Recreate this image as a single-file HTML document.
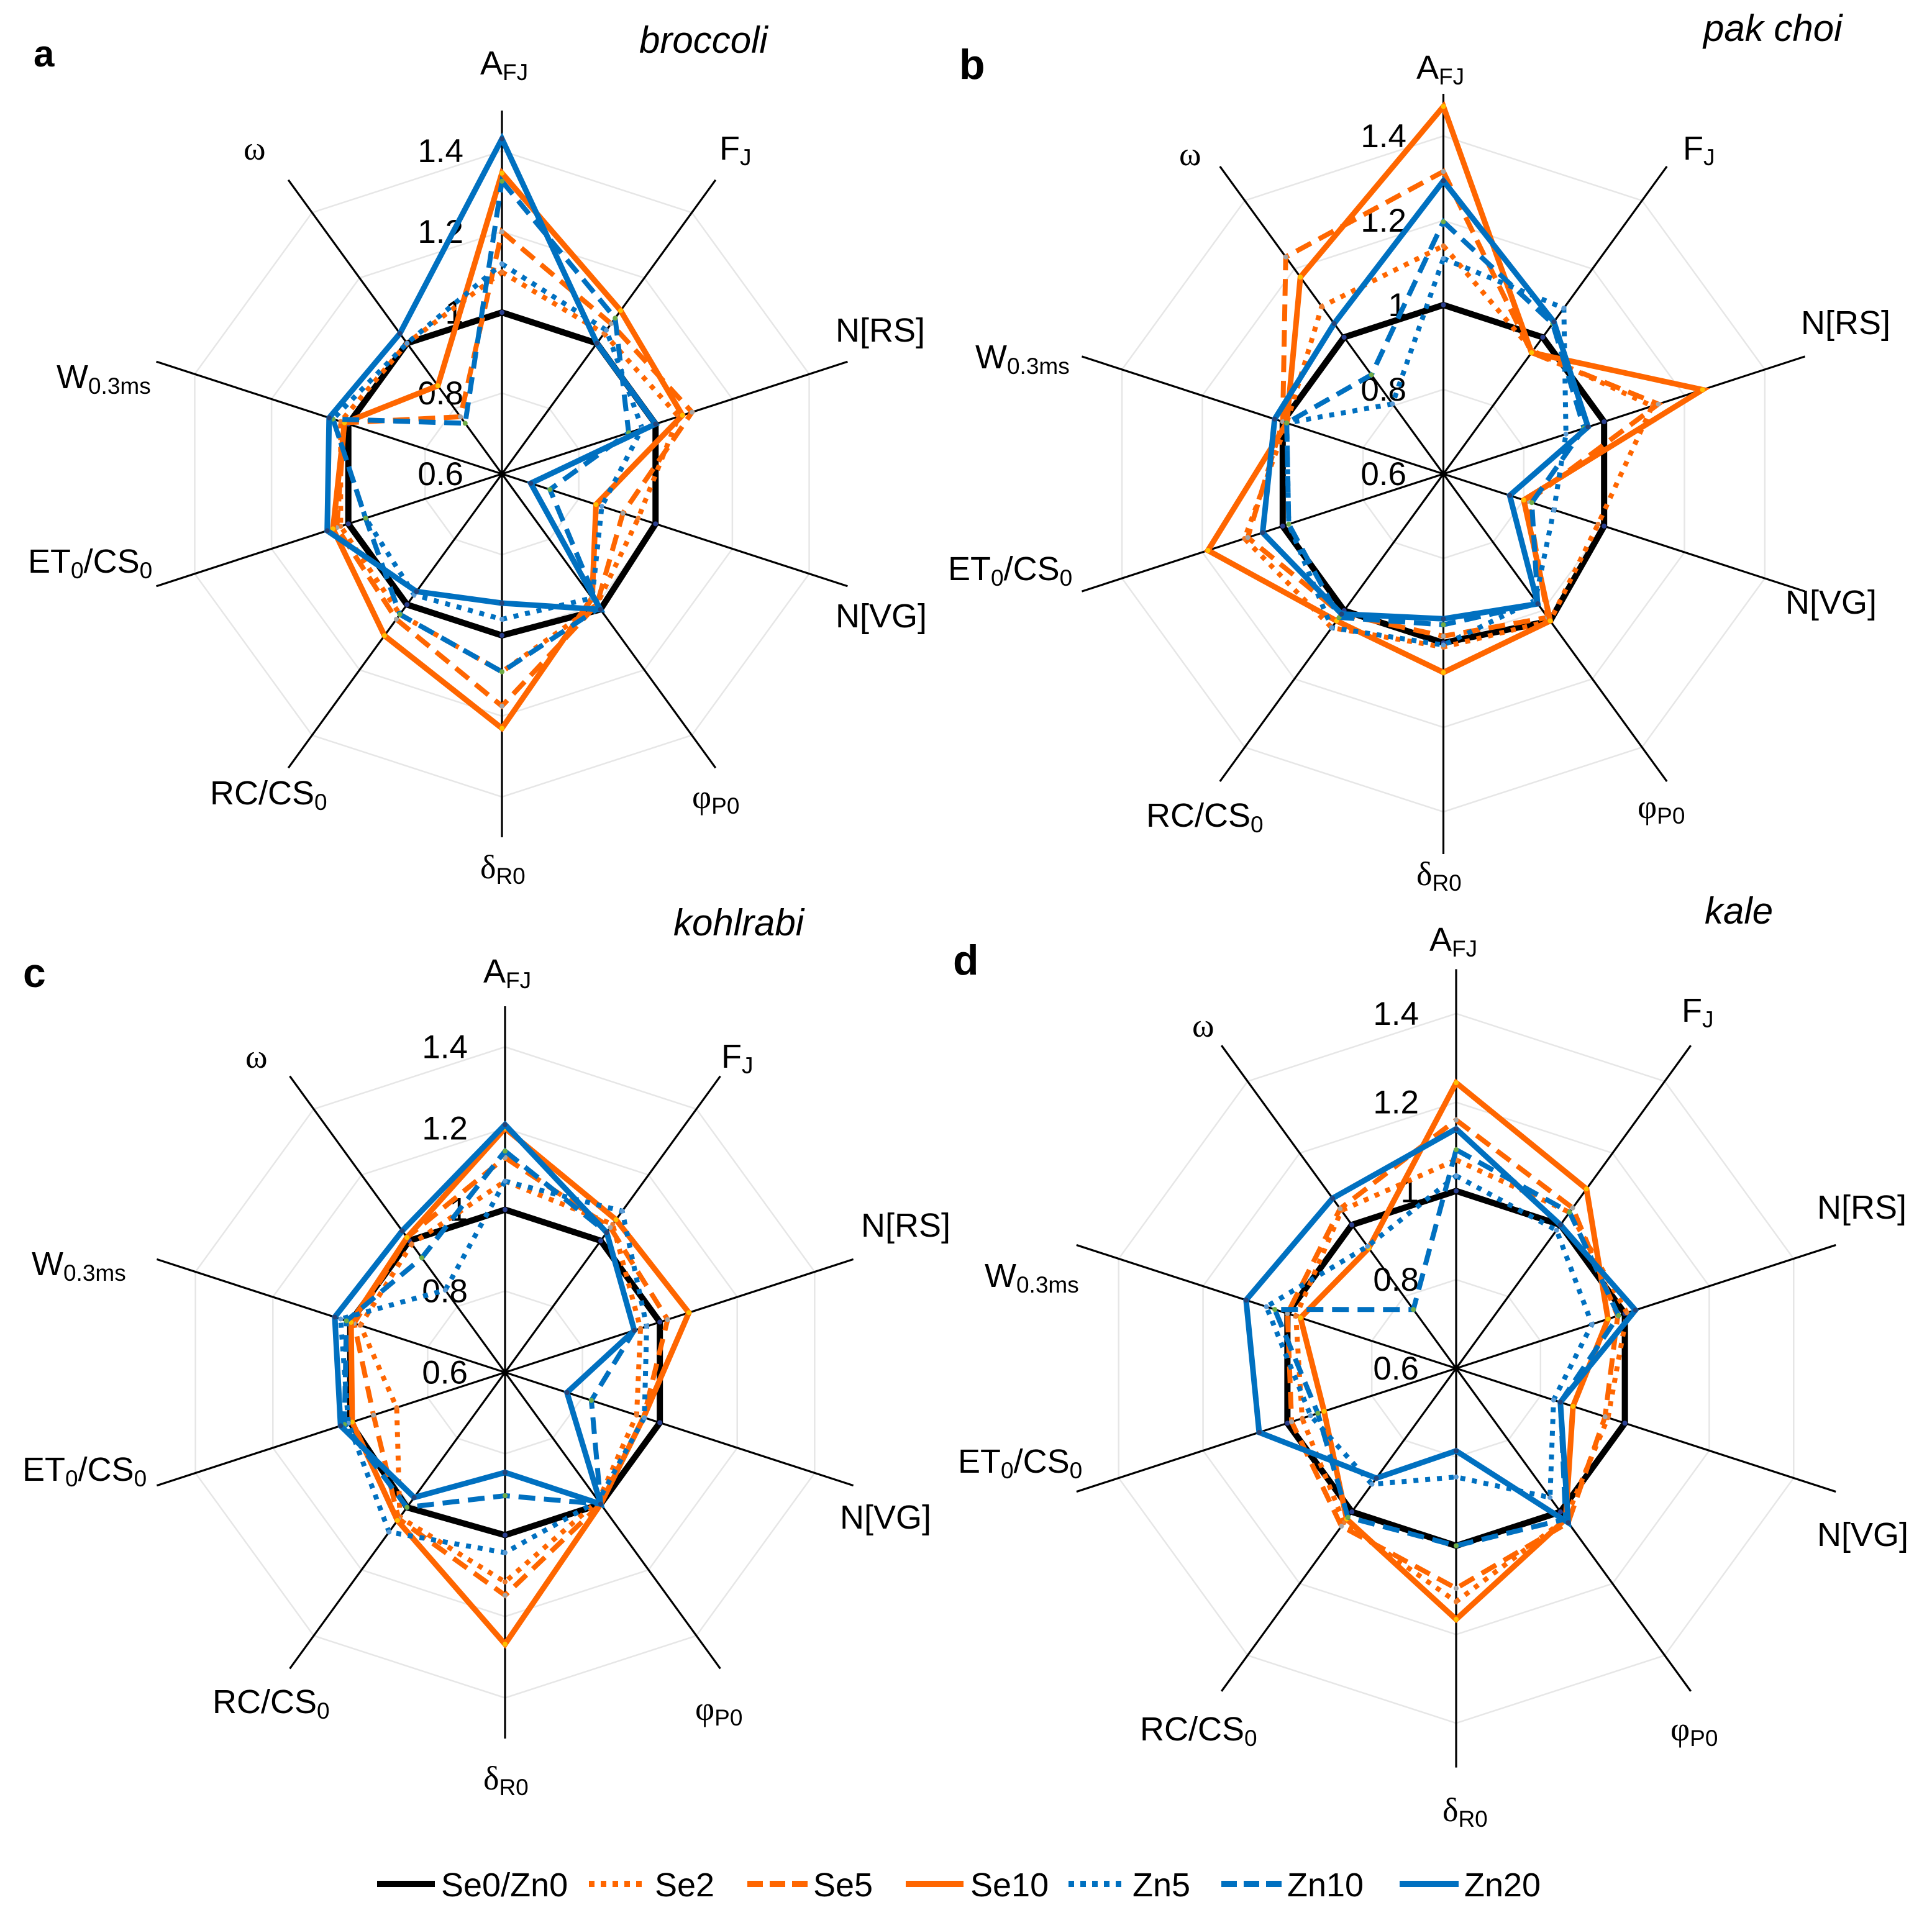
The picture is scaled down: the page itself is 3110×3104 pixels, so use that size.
<!DOCTYPE html>
<html lang="en">
<head>
<meta charset="utf-8">
<title>Radar charts: broccoli, pak choi, kohlrabi, kale</title>
<style>
html,body{margin:0;padding:0;background:#fff;}
svg{display:block;}
text{font-family:"Liberation Sans",sans-serif;fill:#000;}
</style>
</head>
<body>
<svg id="figure" xmlns="http://www.w3.org/2000/svg" width="3110" height="3104" viewBox="0 0 3110 3104"></svg>
<script>
// Categories, clockwise from the top
const categories = ['AFJ','FJ','N[RS]','N[VG]','φP0','δR0','RC/CS0','ET0/CS0','W0.3ms','ω'];
const categoryMain = ['A','F','N[RS]','N[VG]','φ','δ','RC/CS','ET','W','ω'];
const categorySub = ['FJ','J','','','P0','R0','0','0','0.3ms',''];
const categoryTail = ['','','','','','','','/CS','',''];
const categoryTailSub = ['','','','','','','','0','',''];
const tickValues = [0.6,0.8,1,1.2,1.4];
const ringValues = [0.8,1,1.2,1.4];
const axisMax = [1.5];
const axisMin = [0.6];
const seriesNames = ['Se0/Zn0','Se2','Se5','Se10','Zn5','Zn10','Zn20'];

// a: broccoli
const broccoliSe0 = [1,1,1,1,1.015,1,1,1,1,1];
const broccoliSe2 = [1.10,1.03,1.06,0.955,1.0,1.09,1.03,1.02,1.02,1.0];
const broccoliSe5 = [1.2,1.06,1.095,0.915,1.0,1.175,1.045,1.03,1.01,0.775];
const broccoliSe10 = [1.345,1.10,1.07,0.845,0.98,1.23,1.095,1.04,1.01,0.87];
const broccoliZn5 = [1.12,1.04,0.965,0.86,0.98,0.96,0.97,0.955,1.04,1.0];
const broccoliZn10 = [1.325,1.077,0.93,0.725,1.01,1.09,1.03,0.955,1.04,0.755];
const broccoliZn20 = [1.43,1.0,1.0,0.675,1.015,0.92,0.96,1.055,1.05,1.03];

// b: pak choi
const pakChoiSe0 = [1,1,1,1,1.03,1,1,1,1,1];
const pakChoiSe2 = [1.14,0.96,1.12,0.985,1.03,1.01,1.05,1.095,0.99,1.09];
const pakChoiSe5 = [1.316,0.955,1.135,0.81,1.02,0.984,1.01,1.087,1.0,1.235];
const pakChoiSe10 = [1.47,0.955,1.245,0.80,1.03,1.07,1.03,1.186,0.99,1.176];
const pakChoiZn5 = [1.11,1.085,0.905,0.875,0.97,1.005,1.05,0.985,0.99,0.805];
const pakChoiZn10 = [1.197,1.04,0.95,0.82,0.98,0.957,1.02,0.985,0.99,0.89];
const pakChoiZn20 = [1.294,1.045,0.96,0.765,0.98,0.943,1.01,1.05,1.02,1.04];

// c: kohlrabi
const kohlrabiSe0 = [1,1,1,1,1,1,1.01,1,1,1];
const kohlrabiSe2 = [1.07,1.05,0.95,0.94,0.99,1.115,1.04,0.88,0.974,0.99];
const kohlrabiSe5 = [1.128,1.04,1.02,0.958,1,1.148,1.045,0.94,0.99,1.01];
const kohlrabiSe10 = [1.2,1.064,1.075,0.958,1,1.268,1.05,0.995,0.998,1.01];
const kohlrabiZn5 = [1.07,1.09,0.966,0.96,0.99,1.043,1.085,1.005,1.025,0.85];
const kohlrabiZn10 = [1.144,1.025,0.934,0.823,1,0.903,1.01,1.015,1.01,0.948];
const kohlrabiZn20 = [1.209,1.025,0.934,0.76,1,0.846,0.98,1.025,1.04,1.03];

// d: kale
const kaleSe0 = [1,1,1,1,1,1,1,1,1,1];
const kaleSe2 = [1.07,1.035,1.005,0.96,1.02,1.126,1.03,0.965,0.98,1.04];
const kaleSe5 = [1.16,1.047,0.983,0.953,1.03,1.096,1.04,0.99,1,1.045];
const kaleSe10 = [1.244,1.10,0.96,0.877,1.02,1.166,1.02,0.913,0.969,0.935];
const kaleZn5 = [1.034,0.985,0.922,0.831,0.96,0.845,0.923,0.945,1.05,0.94];
const kaleZn10 = [1.093,1.035,0.985,0.847,1.02,1.0,1.015,0.928,1.03,0.764];
const kaleZn20 = [1.14,1.0,1.025,0.847,1.03,0.786,0.906,1.067,1.098,1.074];

const svg = document.getElementById('figure');
const NS = 'http://www.w3.org/2000/svg';

const seriesStyles = [
  {color:'#000000', width:10, dash:'', marker:'#2a3f8f'},
  {color:'#FF6600', width:8, dash:'8 11', marker:'#ed7d31'},
  {color:'#FF6600', width:8, dash:'27 14', marker:'#a5a5a5'},
  {color:'#FF6600', width:9, dash:'', marker:'#ffc000'},
  {color:'#0070C0', width:8, dash:'8 11', marker:'#5b9bd5'},
  {color:'#0070C0', width:8, dash:'27 14', marker:'#70ad47'},
  {color:'#0070C0', width:9, dash:'', marker:'#264478'}
];

const panels = [
  {key:'broccoli', letter:'a', letterSize:60, title:'broccoli', cx:808, cy:763, scale:650, tickRight:746,
   letterPos:[54,107], titlePos:[1029,85],
   labelPos:[[773,120],[1158,257],[1345,550],[1345,1010],[1114,1301],[773,1414],[338,1295],[45,922],[91,625],[392,257]],
   values:[broccoliSe0,broccoliSe2,broccoliSe5,broccoliSe10,broccoliZn5,broccoliZn10,broccoliZn20]},
  {key:'pak-choi', letter:'b', letterSize:68, title:'pak choi', cx:2323.5, cy:763, scale:680, tickRight:2264,
   letterPos:[1544,127], titlePos:[2742,66],
   labelPos:[[2280,127],[2709,257],[2899,538],[2874,988],[2636,1317],[2280,1425],[1845,1331],[1526,934],[1570,593],[1898,266]],
   values:[pakChoiSe0,pakChoiSe2,pakChoiSe5,pakChoiSe10,pakChoiZn5,pakChoiZn10,pakChoiZn20]},
  {key:'kohlrabi', letter:'c', letterSize:66, title:'kohlrabi', cx:813, cy:2209.5, scale:655, tickRight:753,
   letterPos:[37,1589], titlePos:[1084,1506],
   labelPos:[[778,1582],[1161,1719],[1386,1991],[1352,2461],[1119,2769],[778,2881],[342,2758],[36,2384],[51,2053],[395,1719]],
   values:[kohlrabiSe0,kohlrabiSe2,kohlrabiSe5,kohlrabiSe10,kohlrabiZn5,kohlrabiZn10,kohlrabiZn20]},
  {key:'kale', letter:'d', letterSize:68, title:'kale', cx:2344, cy:2203, scale:714, tickRight:2284,
   letterPos:[1534,1569], titlePos:[2744,1487],
   labelPos:[[2301,1531],[2707,1645],[2925,1962],[2925,2489],[2689,2802],[2322,2932],[1835,2802],[1542,2371],[1585,2072],[1919,1669]],
   values:[kaleSe0,kaleSe2,kaleSe5,kaleSe10,kaleZn5,kaleZn10,kaleZn20]}
];

function make(tag, parent){
  const el = document.createElementNS(NS, tag);
  parent.appendChild(el);
  return el;
}
function radius(panel, value){
  return (value - axisMin[0]) * panel.scale;
}
function point(panel, axisIndex, value){
  const angle = axisIndex * 2 * Math.PI / categories.length;
  const r = radius(panel, value);
  return [panel.cx + r * Math.sin(angle), panel.cy - r * Math.cos(angle)];
}
function addSpan(textEl, content, size, dy){
  const span = make('tspan', textEl);
  span.textContent = content;
  span.setAttribute('font-size', size);
  if (dy) span.setAttribute('dy', dy);
  return span;
}

panels.forEach(function(panel){
  const group = make('g', svg);
  
  

  ringValues.forEach(function(value){
    const ring = make('polygon', group);
    
    
    ring.setAttribute('points', categories.map(function(c, i){ return point(panel, i, value).join(','); }).join(' '));
    ring.setAttribute('fill', 'none');
    ring.setAttribute('stroke', '#e6e6e6');
    ring.setAttribute('stroke-width', '2.5');
  });

  categories.forEach(function(category, i){
    const end = point(panel, i, axisMax[0]);
    const axis = make('line', group);
    
    
    axis.setAttribute('x1', panel.cx);
    axis.setAttribute('y1', panel.cy);
    axis.setAttribute('x2', end[0]);
    axis.setAttribute('y2', end[1]);
    axis.setAttribute('stroke', '#000');
    axis.setAttribute('stroke-width', '3.2');
  });

  tickValues.forEach(function(value){
    const tick = make('text', group);
    
    
    tick.setAttribute('x', panel.tickRight);
    tick.setAttribute('y', panel.cy - radius(panel, value) + 18);
    tick.setAttribute('text-anchor', 'end');
    tick.setAttribute('font-size', '53');
    tick.textContent = String(value);
  });

  panel.values.forEach(function(values, s){
    const style = seriesStyles[s];
    const line = make('polygon', group);
    
    
    line.setAttribute('points', values.map(function(v, i){ return point(panel, i, v).join(','); }).join(' '));
    line.setAttribute('fill', 'none');
    line.setAttribute('stroke', style.color);
    line.setAttribute('stroke-width', style.width);
    line.setAttribute('stroke-linejoin', 'miter');
    line.setAttribute('stroke-miterlimit', '6');
    if (style.dash) line.setAttribute('stroke-dasharray', style.dash);
    values.forEach(function(v, i){
      const p = point(panel, i, v);
      const dot = make('circle', group);
      
      
      dot.setAttribute('cx', p[0]);
      dot.setAttribute('cy', p[1]);
      dot.setAttribute('r', '4');
      dot.setAttribute('fill', style.marker);
    });
  });

  categories.forEach(function(category, i){
    const pos = panel.labelPos[i];
    const label = make('text', group);
    
    
    label.setAttribute('x', pos[0]);
    label.setAttribute('y', pos[1]);
    const greek = categoryMain[i] === 'φ' || categoryMain[i] === 'δ' || categoryMain[i] === 'ω';
    const mainSpan = addSpan(label, categoryMain[i], greek ? 54 : 54, 0);
    if (greek) mainSpan.setAttribute('style', 'font-family:"Liberation Serif",serif');
    if (categorySub[i]) addSpan(label, categorySub[i], 37, 9);
    if (categoryTail[i]) addSpan(label, categoryTail[i], 54, -9);
    if (categoryTailSub[i]) addSpan(label, categoryTailSub[i], 37, 9);
  });

  const letter = make('text', group);
  
  
  letter.setAttribute('x', panel.letterPos[0]);
  letter.setAttribute('y', panel.letterPos[1]);
  letter.setAttribute('font-size', panel.letterSize);
  letter.setAttribute('font-weight', '700');
  letter.textContent = panel.letter;

  const title = make('text', group);
  
  
  title.setAttribute('x', panel.titlePos[0]);
  title.setAttribute('y', panel.titlePos[1]);
  title.setAttribute('font-size', '60');
  title.setAttribute('font-style', 'italic');
  title.textContent = panel.title;
});

// Legend
const legendLineStart = [607,948,1203,1458,1720,1966,2253];
const legendLineEnd = [700,1037,1300,1551,1810,2064,2348];
const legendTextStart = [710,1054,1309,1562,1823,2072,2357];
const legend = make('g', svg);


seriesNames.forEach(function(name, s){
  const style = seriesStyles[s];
  const sample = make('line', legend);
  
  
  sample.setAttribute('x1', legendLineStart[s]);
  sample.setAttribute('x2', legendLineEnd[s]);
  sample.setAttribute('y1', 3033);
  sample.setAttribute('y2', 3033);
  sample.setAttribute('stroke', style.color);
  sample.setAttribute('stroke-width', '10');
  if (style.dash) sample.setAttribute('stroke-dasharray', style.dash === '8 11' ? '9 10' : '25 11');
  const text = make('text', legend);
  
  
  text.setAttribute('x', legendTextStart[s]);
  text.setAttribute('y', 3053);
  text.setAttribute('font-size', '54');
  text.textContent = name;
});
</script>
</body>
</html>
